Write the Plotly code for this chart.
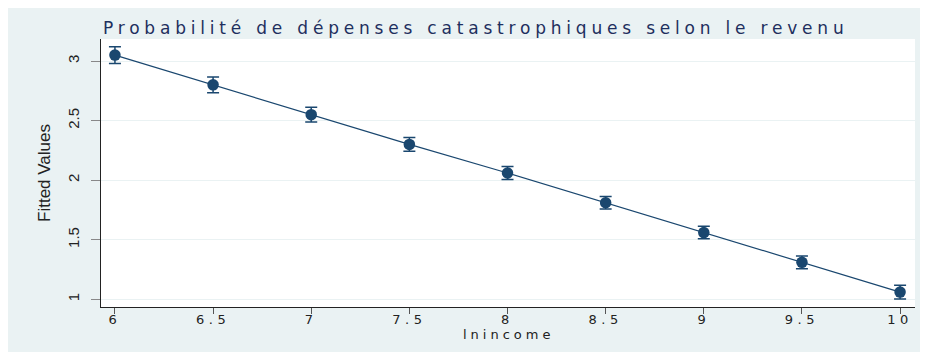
import plotly.graph_objects as go

lnincome = [6, 6.5, 7, 7.5, 8, 8.5, 9, 9.5, 10]
fitted = [3.05, 2.80, 2.55, 2.30, 2.06, 1.81, 1.56, 1.31, 1.06]
ci_half = [0.070, 0.067, 0.062, 0.058, 0.055, 0.052, 0.052, 0.054, 0.057]

x_ticks = [6, 6.5, 7, 7.5, 8, 8.5, 9, 9.5, 10]
x_ticktext = ["6", "6.5", "7", "7.5", "8", "8.5", "9", "9.5", "10"]
y_ticks = [1, 1.5, 2, 2.5, 3]
y_ticktext = ["1", "1.5", "2", "2.5", "3"]

title_text = "Probabilité de dépenses catastrophiques selon le revenu"
x_title = "lnincome"
y_title = "Fitted Values"
navy = "#1a476f"
bg = "#eaf2f3"


def spaced(s, px):
    return '<span style="letter-spacing:%spx">%s</span>' % (px, s)


fig = go.Figure()
fig.add_trace(go.Scatter(
    x=lnincome, y=fitted, mode="lines", line=dict(color=navy, width=1.2),
    hoverinfo="skip", showlegend=False))
fig.add_trace(go.Scatter(
    x=lnincome, y=fitted, mode="markers",
    marker=dict(color=navy, size=11.5),
    error_y=dict(type="data", array=ci_half, color=navy, thickness=1.5, width=6),
    showlegend=False))

fig.update_layout(
    width=928, height=352,
    margin=dict(l=93, r=21, t=31, b=53),
    paper_bgcolor=bg, plot_bgcolor="white",
    title=dict(
        text=spaced(title_text, 4.8),
        x=95 / 928, xanchor="left", xref="container", y=1 - 20 / 352, yanchor="middle",
        font=dict(family="DejaVu Sans", size=17, color="#1e2f5e")),
    annotations=[dict(
        text=spaced(x_title, 4), xref="paper", yref="paper",
        x=0.5, y=-27 / 268, xanchor="center", yanchor="middle", showarrow=False,
        font=dict(family="DejaVu Sans", size=13, color="#222222"))],
)
fig.update_xaxes(
    range=[5.929, 10.076], tickvals=x_ticks, ticktext=[spaced(t, 4.5) for t in x_ticktext],
    showgrid=False, zeroline=False, showline=True, linecolor="#222222", linewidth=1,
    ticks="outside", ticklen=6, tickcolor="#555555", ticklabelstandoff=-6,
    tickfont=dict(family="DejaVu Sans", size=13, color="#222222"))
fig.update_yaxes(
    range=[0.935, 3.185], tickvals=y_ticks, ticktext=y_ticktext, tickangle=-90,
    showgrid=True, gridcolor=bg, gridwidth=1, zeroline=False,
    showline=True, linecolor="#222222", linewidth=1,
    ticks="outside", ticklen=9, tickcolor="#888888", ticklabelstandoff=6,
    tickfont=dict(family="Liberation Sans Narrow, Liberation Sans", size=15, color="#222222"),
    title=dict(text=y_title, standoff=10,
               font=dict(family="Liberation Sans Narrow, Liberation Sans", size=17, color="#222222")))

fig.write_html("out.html")
